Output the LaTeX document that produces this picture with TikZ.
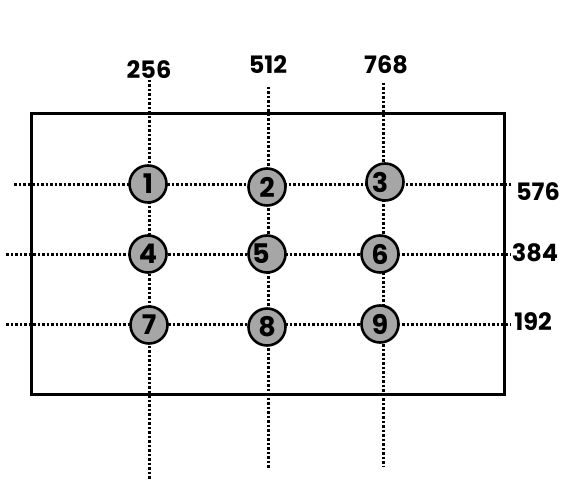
\documentclass[tikz,border=0pt]{standalone}
\usepackage{fontspec}
\setmainfont{Poppins}
\usepackage{tikz}
\usetikzlibrary{calc}

\begin{document}
\begin{tikzpicture}[x=1pt,y=-1pt,
grid line/.style = {line width = 3pt, dash pattern = on 2.5pt off 2pt},
spot node/.style = {circle, draw, line width = 2.6pt, fill = black!35, inner sep = 0pt, minimum size = 37pt, font = \fontsize{27}{27}\selectfont\bfseries},
axis label/.style = {font = \fontsize{24}{24}\selectfont\bfseries}]
\useasboundingbox (0,0) rectangle (570,481);

% frame
\draw[line width = 3pt] (31,114) rectangle (504,394);

% ends of the grid lines
\coordinate (v1top) at (149,80);
\coordinate (v1bot) at (149,479);
\coordinate (v2top) at (268,87);
\coordinate (v2bot) at (268,469);
\coordinate (v3top) at (383,83);
\coordinate (v3bot) at (383,466);
\coordinate (h1left) at (14,185);
\coordinate (h1right) at (511,185);
\coordinate (h2left) at (6,254);
\coordinate (h2right) at (511,254);
\coordinate (h3left) at (6,324);
\coordinate (h3right) at (511,324);

\draw[grid line] (v1top) -- (v1bot);
\draw[grid line] (v2top) -- (v2bot);
\draw[grid line] (v3top) -- (v3bot);
\draw[grid line] (h1left) -- (h1right);
\draw[grid line] (h2left) -- (h2right);
\draw[grid line] (h3left) -- (h3right);

% labels
\node[axis label] at (149,70) (x256) {256};
\node[axis label] at (268,65) (x512) {512};
\node[axis label] at (386,65) (x768) {768};
\node[axis label] at (538,192) (y576) {576};
\node[axis label] at (535,253) (y384) {384};
\node[axis label] at (533,322) (y192) {192};

% spots
\node[spot node] at (148,184) (1) {1};
\node[spot node] at (267,187) (2) {\raisebox{-2pt}{2}};
\node[spot node] at (385,182) (3) {\raisebox{-5pt}{3}\kern 10pt};
\node[spot node] at (148,254) (4) {4};
\node[spot node] at (267,254) (5) {5\kern 12pt};
\node[spot node] at (380,254) (6) {6};
\node[spot node] at (149,325) (7) {7};
\node[spot node] at (267,327) (8) {\raisebox{-2pt}{8}};
\node[spot node] at (380,324) (9) {9};
\end{tikzpicture}
\end{document}
